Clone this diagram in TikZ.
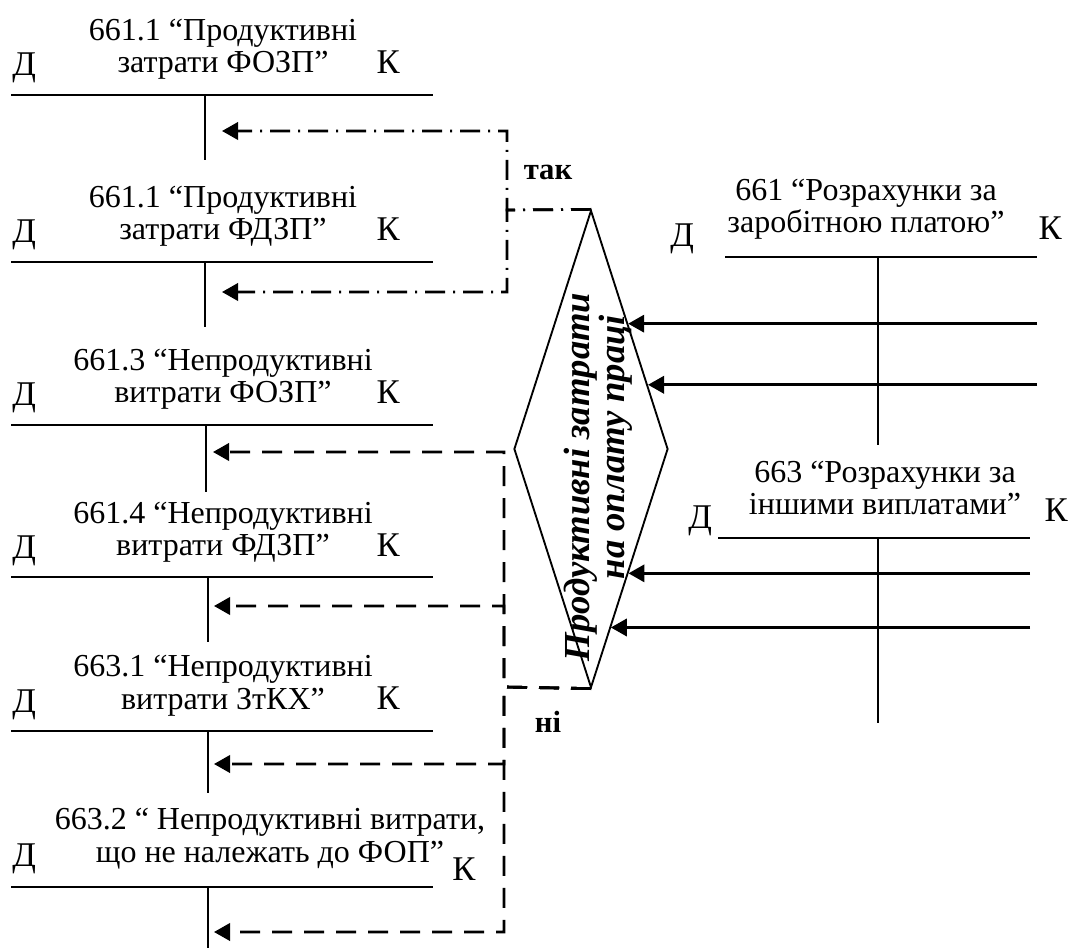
\documentclass[tikz,border=0pt]{standalone}
\usepackage{fontspec}
\setmainfont{Liberation Serif}
\usetikzlibrary{arrows.meta,positioning,shapes.geometric,calc}

\begin{document}
\begin{tikzpicture}[x=0.75pt, y=-0.75pt,
  ttl/.style={align=center, font=\fontsize{24}{24.5}\selectfont, inner sep=0pt, anchor=base},
  dk/.style={font=\fontsize{26}{26}\selectfont, inner sep=0pt},
  acc/.style={line width=1.5pt},
  arr/.style={-{Triangle[length=12pt,width=13pt]}, line width=2pt},
  dsh/.style={arr, dash pattern=on 15pt off 9pt},
  dsd/.style={arr, dash pattern=on 15pt off 6pt on 1.5pt off 6pt},
  dec/.style={draw, diamond, line width=1.4pt, inner sep=0pt, minimum width=115.5pt, minimum height=358pt},
  lbl/.style={font=\fontsize{23}{23}\selectfont\bfseries, inner sep=0pt}]
\useasboundingbox (0,0) rectangle (1072,948);

% left accounts
\node[ttl] (fozp) at (223,73) {661.1 “Продуктивні\\затрати ФОЗП”};
\node[dk, anchor=base west] (fozpD) at (12,76) {Д};
\node[dk, anchor=base east] (fozpK) at (400,74) {К};
\draw[acc] (11,95) -- (433,95);
\draw[acc] (205,95) -- (205,160);

\node[ttl] (fdzp) at (223,240) {661.1 “Продуктивні\\затрати ФДЗП”};
\node[dk, anchor=base west] (fdzpD) at (12,243) {Д};
\node[dk, anchor=base east] (fdzpK) at (400,241) {К};
\draw[acc] (11,262) -- (433,262);
\draw[acc] (205,262) -- (205,327);

\node[ttl] (nfozp) at (223,403) {661.3 “Непродуктивні\\витрати ФОЗП”};
\node[dk, anchor=base west] (nfozpD) at (12,406) {Д};
\node[dk, anchor=base east] (nfozpK) at (400,404) {К};
\draw[acc] (11,425) -- (433,425);
\draw[acc] (206,425) -- (206,492);

\node[ttl] (nfdzp) at (223,556) {661.4 “Непродуктивні\\витрати ФДЗП”};
\node[dk, anchor=base west] (nfdzpD) at (12,559) {Д};
\node[dk, anchor=base east] (nfdzpK) at (400,557) {К};
\draw[acc] (11,577) -- (433,577);
\draw[acc] (208,577) -- (208,642);

\node[ttl] (ztkh) at (223,709) {663.1 “Непродуктивні\\витрати ЗтКХ”};
\node[dk, anchor=base west] (ztkhD) at (12,712) {Д};
\node[dk, anchor=base east] (ztkhK) at (400,710) {К};
\draw[acc] (11,731) -- (433,731);
\draw[acc] (208,731) -- (208,793);

\node[ttl] (nfop) at (270,862) {663.2 “ Непродуктивні витрати,\\що не належать до ФОП”};
\node[dk, anchor=base west] (nfopD) at (12,866) {Д};
\node[dk, anchor=base west] (nfopK) at (452,880) {К};
\draw[acc] (11,887) -- (433,887);
\draw[acc] (208,887) -- (208,948);

% decision
\node[dec] (dia) at (591,449) {};
\node[rotate=90, align=center, font=\fontsize{27.5}{23}\selectfont\bfseries\itshape] (diatxt) at (598,477)
  {Продуктивні затрати\\\hspace*{45pt}на оплату праці};
\node[lbl] (tak) at (548,172) {так};
\node[lbl] (ni) at (548,722) {ні};

\coordinate (yes) at (507,210);
\coordinate (no) at (504,687);
\coordinate (in1) at (222,131);
\coordinate (in2) at (222,292);
\coordinate (in3) at (213,452);
\coordinate (in4) at (214,606);
\coordinate (in5) at (214,764);
\coordinate (in6) at (214,932);
\draw[dsd] (dia.north) -- (yes) |- (in1);
\draw[dsd] (dia.north) -- (yes) |- (in2);
\draw[dsh] (dia.south) -- (no) |- (in3);
\draw[dsh] (dia.south) -- (no) |- (in4);
\draw[dsh] (dia.south) -- (no) |- (in5);
\draw[dsh] (dia.south) -- (no) |- (in6);

% right accounts
\node[ttl] (r661) at (866,233) {661 “Розрахунки за\\заробітною платою”};
\node[dk, anchor=base west] (r661D) at (670,247) {Д};
\node[dk, anchor=base east] (r661K) at (1062,240) {К};
\draw[acc] (725,257) coordinate (r661L) -- (1037,257) coordinate (r661R);
\draw[acc] (878,257) -- (878,445);

\node[ttl] (r663) at (885,515) {663 “Розрахунки за\\іншими виплатами”};
\node[dk, anchor=base west] (r663D) at (688,529) {Д};
\node[dk, anchor=base east] (r663K) at (1068,522) {К};
\draw[acc] (718,538) coordinate (r663L) -- (1030,538) coordinate (r663R);
\draw[acc] (878,538) -- (878,723);

\coordinate (p1) at ($(dia.north)!.477!(dia.east)$);
\coordinate (p2) at ($(dia.north)!.732!(dia.east)$);
\coordinate (p3) at ($(dia.east)!.519!(dia.south)$);
\coordinate (p4) at ($(dia.east)!.745!(dia.south)$);
\draw[arr] (p1 -| r661R) -- (p1);
\draw[arr] (p2 -| r661R) -- (p2);
\draw[arr] (p3 -| r663R) -- (p3);
\draw[arr] (p4 -| r663R) -- (p4);
\end{tikzpicture}
\end{document}
